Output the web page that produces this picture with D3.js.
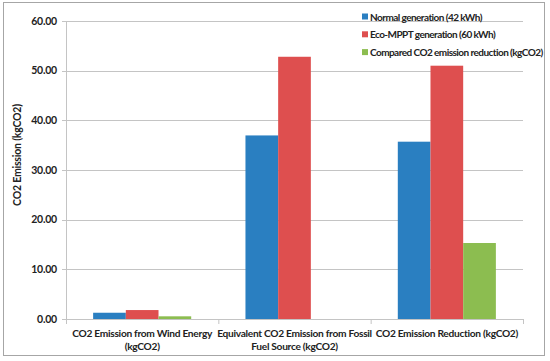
<!DOCTYPE html>
<html>
<head>
<meta charset="utf-8">
<script src="https://cdn.jsdelivr.net/npm/d3@7"></script>
<style>
  body { margin: 0; background: #fff; }
  svg text { font-family: Lato, "Open Sans", sans-serif; font-weight: bold; fill: #222; }
</style>
</head>
<body>
<div id="chart"></div>
<script>
const categories = [
  ["CO2 Emission from Wind Energy", "(kgCO2)"],
  ["Equivalent CO2 Emission from Fossil", "Fuel Source (kgCO2)"],
  ["CO2 Emission Reduction (kgCO2)"]
];
const seriesNames = [
  "Normal generation (42 kWh)",
  "Eco-MPPT generation (60 kWh)",
  "Compared CO2 emission reduction (kgCO2)"
];
const normalGen = [1.26, 36.96, 35.70];
const ecoGen = [1.80, 52.80, 51.00];
const reduction = [0.54, 0, 15.30];
const yTicks = [0, 10, 20, 30, 40, 50, 60];
const colours = ["#2a7fc1", "#de4f4f", "#8cbd50"];

const w = 550, h = 361;
const margin = { top: 21, right: 27, bottom: 42, left: 66 };

const svg = d3.select("#chart").append("svg").attr("width", w).attr("height", h);

// outer frame
svg.append("rect")
  .attr("x", 3.5).attr("y", 2.5)
  .attr("width", 541).attr("height", 353)
  .attr("fill", "none").attr("stroke", "#a6a6a6").attr("stroke-width", 1);

const x0 = d3.scaleBand()
  .domain(d3.range(categories.length))
  .range([margin.left, w - margin.right]);

const x1 = d3.scaleBand()
  .domain(d3.range(seriesNames.length))
  .range([0, x0.bandwidth()])
  .paddingOuter(0.83)
  .paddingInner(0);

const y = d3.scaleLinear().domain([0, 60]).range([h - margin.bottom, margin.top]);

// gridlines
svg.append("g")
  .selectAll("line")
  .data(yTicks.filter(d => d > 0))
  .enter()
  .append("line")
  .attr("x1", margin.left - 4)
  .attr("x2", w - margin.right)
  .attr("y1", d => Math.round(y(d)) + 0.5)
  .attr("y2", d => Math.round(y(d)) + 0.5)
  .attr("stroke", "#c4c4c4");

// y axis line
svg.append("line")
  .attr("x1", margin.left + 0.5).attr("x2", margin.left + 0.5)
  .attr("y1", margin.top).attr("y2", y(0))
  .attr("stroke", "#c4c4c4");

// y tick labels
svg.append("g")
  .selectAll("text")
  .data(yTicks)
  .enter()
  .append("text")
  .attr("x", margin.left - 9)
  .attr("y", d => y(d))
  .attr("dy", "0.35em")
  .attr("text-anchor", "end")
  .style("font-size", "10.5px")
  .style("letter-spacing", "-0.2px")
  .text(d => d.toFixed(2));

const data = [normalGen, ecoGen, reduction];

// bars
const groups = svg.append("g")
  .selectAll("g")
  .data(categories.map((c, i) => data.map(s => s[i])))
  .enter()
  .append("g")
  .attr("transform", (d, i) => `translate(${x0(i)},0)`);

groups.selectAll("rect")
  .data(d => d)
  .enter()
  .append("rect")
  .attr("x", (d, j) => x1(j))
  .attr("width", x1.bandwidth())
  .attr("y", d => y(d))
  .attr("height", d => y(0) - y(d))
  .style("fill", (d, j) => colours[j]);

// x axis line and ticks
svg.append("line")
  .attr("x1", margin.left - 4).attr("x2", w - margin.right)
  .attr("y1", Math.round(y(0)) + 0.5).attr("y2", Math.round(y(0)) + 0.5)
  .attr("stroke", "#c4c4c4");

svg.append("g")
  .selectAll("line")
  .data(d3.range(categories.length + 1))
  .enter()
  .append("line")
  .attr("x1", i => margin.left + i * x0.bandwidth() + 0.5)
  .attr("x2", i => margin.left + i * x0.bandwidth() + 0.5)
  .attr("y1", y(0))
  .attr("y2", y(0) + 5)
  .attr("stroke", "#c4c4c4");

// category labels
const catLabels = svg.append("g")
  .selectAll("text")
  .data(categories)
  .enter()
  .append("text")
  .attr("x", (d, i) => x0(i) + x0.bandwidth() / 2)
  .attr("y", y(0) + 18)
  .attr("text-anchor", "middle")
  .style("font-size", "10.2px")
  .style("letter-spacing", "-0.3px");

catLabels.selectAll("tspan")
  .data(d => d)
  .enter()
  .append("tspan")
  .attr("x", function () { return d3.select(this.parentNode).attr("x"); })
  .attr("dy", (d, i) => (i === 0 ? 0 : 13))
  .text(d => d);

// y axis title
svg.append("text")
  .attr("transform", `translate(21,155) rotate(-90)`)
  .attr("text-anchor", "middle")
  .style("font-size", "10.5px")
  .style("letter-spacing", "-0.2px")
  .text("CO2 Emission (kgCO2)");

// legend
const legend = svg.append("g")
  .selectAll("g")
  .data(seriesNames)
  .enter()
  .append("g")
  .attr("transform", (d, i) => `translate(362,${17 + i * 17.8})`);

legend.append("rect")
  .attr("x", 0).attr("y", -3.5)
  .attr("width", 6).attr("height", 6)
  .style("fill", (d, i) => colours[i]);

legend.append("text")
  .attr("x", 8)
  .attr("y", 0)
  .attr("dy", "0.35em")
  .style("font-size", "10px")
  .style("letter-spacing", "-0.55px")
  .text(d => d);
</script>
</body>
</html>
